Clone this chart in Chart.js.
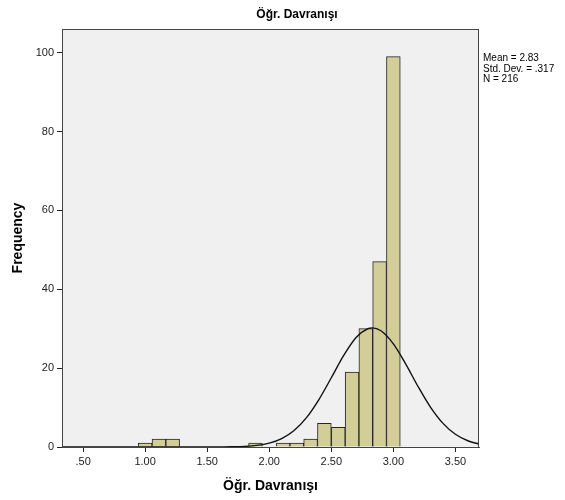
<!DOCTYPE html>
<html>
<head>
<meta charset="utf-8">
<script src="https://cdn.jsdelivr.net/npm/chart.js@4.4.1/dist/chart.umd.min.js"></script>
<style>
  html, body { margin: 0; padding: 0; background: #ffffff; }
  #histograma { display: block; }
</style>
</head>
<body>
<canvas id="histograma" width="565" height="500"></canvas>
<script>
// bins of width 1/9, centred on k/9
const binCentros = [1.000, 1.111, 1.222, 1.889, 2.111, 2.222, 2.333, 2.444, 2.556, 2.667, 2.778, 2.889, 3.000];
const frecuencias = [1, 2, 2, 1, 1, 1, 2, 6, 5, 19, 30, 47, 99];

// normal curve
const curvaX = [0.3, 1.5, 1.6, 1.7, 1.8, 1.9, 2.0, 2.1, 2.2, 2.3, 2.4, 2.5, 2.6, 2.7, 2.8, 2.83, 2.9, 3.0, 3.1, 3.2, 3.3, 3.4, 3.5, 3.6, 3.7];
const curvaY = [0, 0, 0.02, 0.05, 0.15, 0.41, 0.98, 2.13, 4.19, 7.46, 12.04, 17.56, 23.21, 27.76, 30.06, 30.2, 29.47, 26.15, 21.01, 15.28, 10.06, 5.99, 3.23, 1.58, 0.70];

const ticksX = [0.5, 1.0, 1.5, 2.0, 2.5, 3.0, 3.5];
const ticksY = [0, 20, 40, 60, 80, 100];
const resumen = ['Mean = 2.83', 'Std. Dev. = .317', 'N = 216'];
const titulo = 'Öğr. Davranışı';

const FUENTE = '"Liberation Sans", Arial, sans-serif';

const fondoYMarco = {
  id: 'fondoYMarco',
  beforeDraw(chart) {
    const { ctx, chartArea: a } = chart;
    ctx.save();
    ctx.fillStyle = '#ffffff';
    ctx.fillRect(0, 0, chart.width, chart.height);
    ctx.fillStyle = '#f0f0f0';
    ctx.fillRect(a.left, a.top, a.right - a.left, a.bottom - a.top);
    ctx.restore();
  },
  afterDraw(chart) {
    const { ctx, chartArea: a } = chart;
    ctx.save();
    ctx.strokeStyle = '#444444';
    ctx.lineWidth = 1;
    ctx.strokeRect(a.left + 0.5, a.top + 0.5, a.right - a.left - 1, a.bottom - a.top);

    ctx.fillStyle = '#000000';
    ctx.font = 'bold 12px ' + FUENTE;
    ctx.textAlign = 'center';
    ctx.textBaseline = 'middle';
    ctx.fillText(titulo, 297, 15);

    ctx.font = '10px ' + FUENTE;
    ctx.textAlign = 'left';
    ctx.textBaseline = 'alphabetic';
    resumen.forEach((linea, i) => {
      ctx.fillText(linea, a.right + 4, 61 + i * 10.5);
    });
    ctx.restore();
  }
};

const ctx = document.getElementById('histograma').getContext('2d');
new Chart(ctx, {
  type: 'bar',
  data: {
    datasets: [
      {
        type: 'line',
        data: curvaX.map((x, i) => ({ x: x, y: curvaY[i] })),
        borderColor: '#111111',
        borderWidth: 1.4,
        pointRadius: 0,
        fill: false,
        cubicInterpolationMode: 'monotone',
        order: 0
      },
      {
        type: 'bar',
        data: binCentros.map((x, i) => ({ x: x, y: frecuencias[i] })),
        backgroundColor: '#d3ce97',
        borderColor: '#262626',
        borderWidth: 1,
        barPercentage: 1,
        categoryPercentage: 1,
        order: 1
      }
    ]
  },
  options: {
    responsive: false,
    animation: false,
    devicePixelRatio: 1,
    layout: { padding: { top: 29, right: 86, left: 0, bottom: 0 } },
    plugins: {
      legend: { display: false },
      tooltip: { enabled: false }
    },
    scales: {
      x: {
        type: 'linear',
        min: 0.33,
        max: 3.69,
        offset: false,
        afterBuildTicks: scale => { scale.ticks = ticksX.map(v => ({ value: v })); },
        afterFit: scale => { scale.height = 53; },
        grid: { offset: false, drawOnChartArea: false, drawTicks: true, tickLength: 5, color: '#222222' },
        border: { display: true, color: '#444444' },
        ticks: {
          color: '#222222',
          font: { family: FUENTE, size: 11 },
          padding: 3,
          maxRotation: 0,
          callback: v => v.toFixed(2).replace(/^0/, '')
        },
        title: {
          display: true,
          text: titulo,
          color: '#000000',
          font: { family: FUENTE, size: 14, weight: 'bold' },
          padding: { top: 0, bottom: 5 }
        }
      },
      y: {
        min: 0,
        max: 106,
        afterBuildTicks: scale => { scale.ticks = ticksY.map(v => ({ value: v })); },
        afterFit: scale => { scale.width = 62; },
        grid: { drawOnChartArea: false, drawTicks: true, tickLength: 5, color: '#222222' },
        border: { display: true, color: '#444444' },
        ticks: {
          color: '#222222',
          font: { family: FUENTE, size: 11 },
          padding: 3
        },
        title: {
          display: true,
          text: 'Frequency',
          color: '#000000',
          font: { family: FUENTE, size: 14, weight: 'bold' },
          padding: { top: 10, bottom: 0 }
        }
      }
    }
  },
  plugins: [fondoYMarco]
});
</script>
</body>
</html>
